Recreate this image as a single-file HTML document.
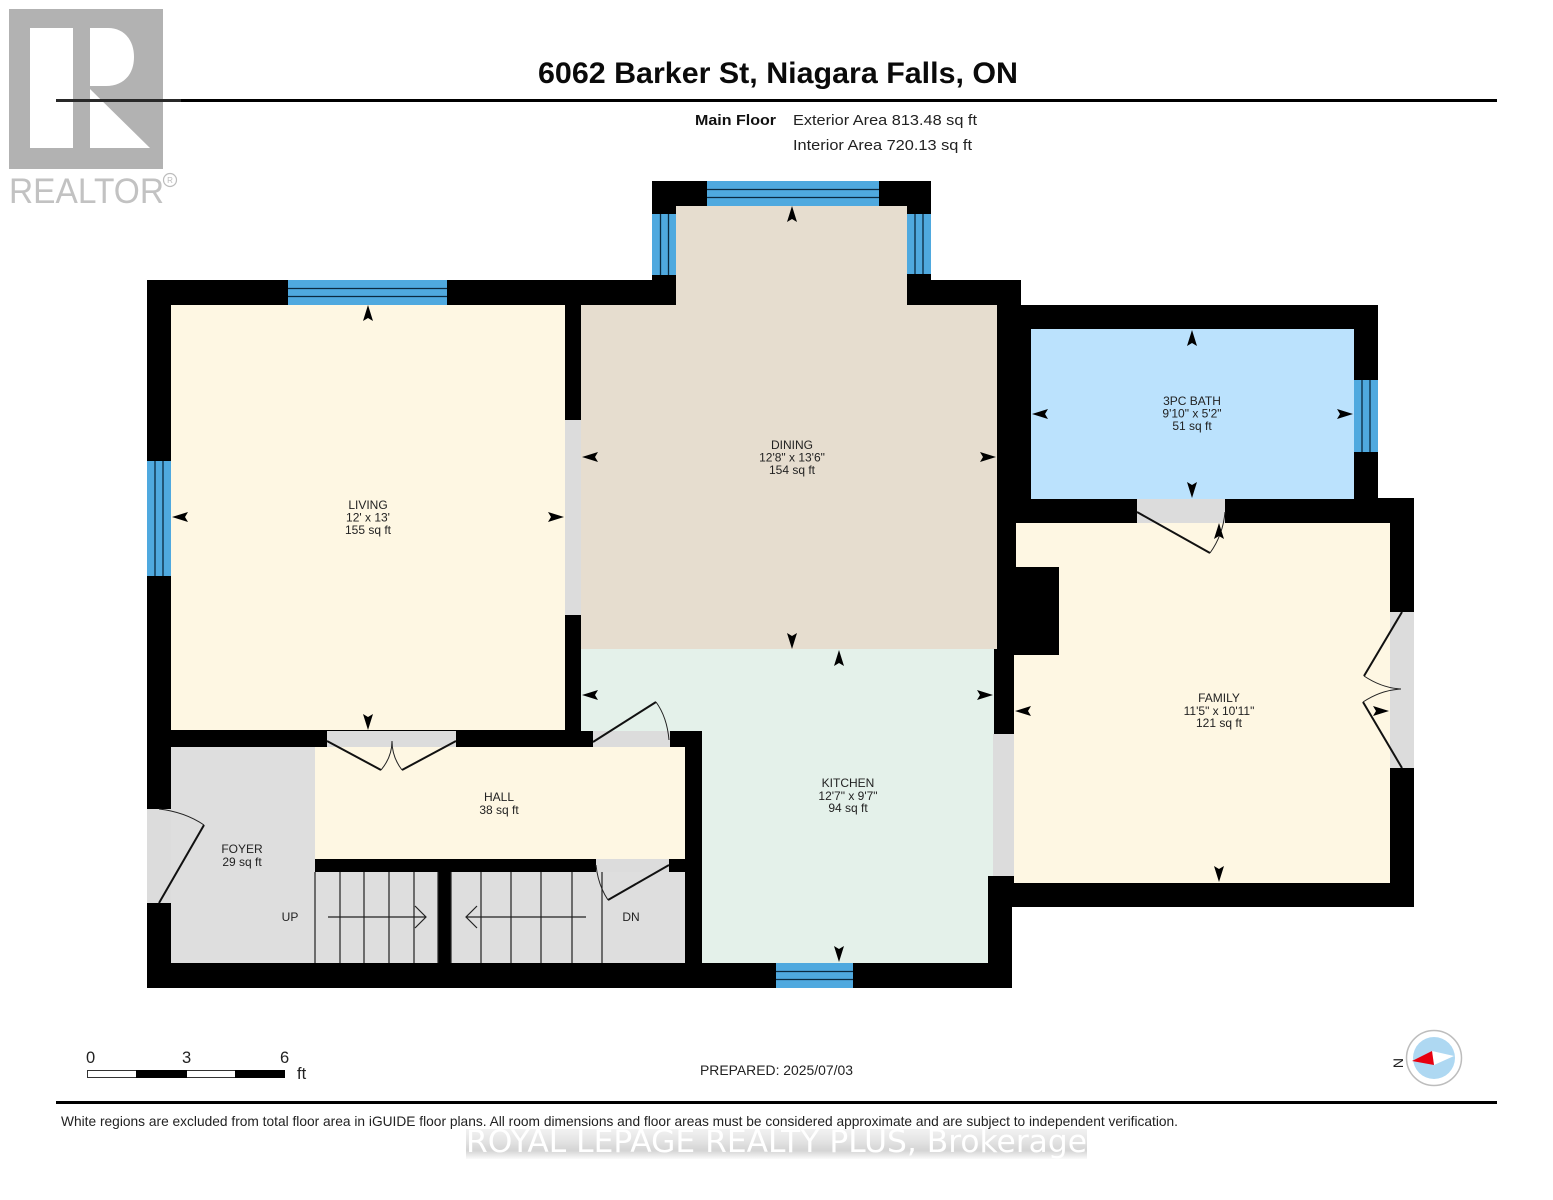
<!DOCTYPE html>
<html lang="en"><head><meta charset="utf-8"><title>6062 Barker St floor plan</title>
<style>html,body{margin:0;padding:0;background:#fff}svg{display:block}text{font-family:"Liberation Sans",sans-serif}</style></head>
<body>
<svg xmlns="http://www.w3.org/2000/svg" xmlns:xlink="http://www.w3.org/1999/xlink" width="1553" height="1200" viewBox="0 0 1553 1200">
<defs>
<path id="a" d="M0 0L5 16L0 13L-5 16Z" fill="#000"/>
<linearGradient id="wm" x1="0" y1="0" x2="0" y2="1"><stop offset="0" stop-color="#f2f2f2"/><stop offset=".35" stop-color="#e6e6e6"/><stop offset=".72" stop-color="#d4d4d4"/><stop offset="1" stop-color="#fafafa"/></linearGradient>
</defs>
<rect width="1553" height="1200" fill="#fff"/>

<!-- logo -->
<rect x="9" y="9" width="154" height="160" fill="#b2b2b2"/>
<rect x="30" y="28" width="43" height="120" fill="#fff"/>
<path d="M90 28H108C124 28 134 40 134 57C134 75 123 86 106 86H90Z" fill="#fff"/>
<path d="M90 89L150 148H90Z" fill="#fff"/>
<text x="9" y="203" font-size="35" fill="#c2c2c2" textLength="155" lengthAdjust="spacingAndGlyphs">REALTOR</text>
<circle cx="170" cy="180" r="6.5" fill="none" stroke="#bcbcbc" stroke-width="1.2"/>
<text x="170" y="183" font-size="8" fill="#bcbcbc" text-anchor="middle">R</text>

<!-- header -->
<rect x="56" y="99" width="1441" height="3" fill="#000"/>
<rect x="56" y="99" width="125" height="3" fill="#333" opacity=".8"/>
<text x="538" y="83" font-size="29.5" font-weight="700" fill="#0a0a0a" textLength="480" lengthAdjust="spacingAndGlyphs">6062 Barker St, Niagara Falls, ON</text>
<text x="695" y="125" font-size="15" font-weight="700" fill="#111" textLength="81" lengthAdjust="spacingAndGlyphs">Main Floor</text>
<text x="793" y="125" font-size="15" fill="#222" textLength="184" lengthAdjust="spacingAndGlyphs">Exterior Area 813.48 sq ft</text>
<text x="793" y="150" font-size="15" fill="#222" textLength="179" lengthAdjust="spacingAndGlyphs">Interior Area 720.13 sq ft</text>

<!-- walls -->
<path d="M147 280H652V181H931V280H1021V305H1378V498H1414V907H1012V988H147Z" fill="#000"/>

<!-- rooms -->
<rect x="171" y="305" width="394" height="425" fill="#fef7e3"/>
<path d="M676 206H907V305H997V649H581V305H676Z" fill="#e6ddcf"/>
<path d="M581 649H994V876H988V963H702V731H581Z" fill="#e4f1ea"/>
<rect x="565" y="731" width="28" height="16" fill="#000"/>
<rect x="670" y="731" width="32" height="232" fill="#000"/>
<rect x="1031" y="329" width="323" height="170" fill="#bbe2fd"/>
<path d="M1016 523H1390V883H1014V655H1059V567H1016Z" fill="#fef7e3"/>
<rect x="171" y="747" width="144" height="216" fill="#dedede"/>
<rect x="315" y="747" width="370" height="112" fill="#fef7e3"/>
<rect x="315" y="872" width="123" height="91" fill="#dedede"/>
<rect x="451" y="872" width="234" height="91" fill="#dedede"/>

<!-- door openings -->
<g fill="#dcdcdc">
<rect x="565" y="420" width="16" height="195"/>
<rect x="593" y="731" width="77" height="16"/>
<rect x="327" y="731" width="129" height="16"/>
<rect x="147" y="809" width="24" height="94"/>
<rect x="596" y="859" width="73" height="13"/>
<rect x="993" y="734" width="21" height="142"/>
<rect x="1137" y="499" width="88" height="24"/>
<rect x="1390" y="612" width="24" height="156"/>
</g>

<!-- windows -->
<g fill="#4fa9df" stroke="none">
<rect x="288" y="280" width="159" height="25"/>
<rect x="147" y="461" width="24" height="115"/>
<rect x="707" y="181" width="172" height="25"/>
<rect x="652" y="214" width="24" height="61"/>
<rect x="907" y="214" width="24" height="60"/>
<rect x="776" y="963" width="77" height="25"/>
<rect x="1354" y="380" width="24" height="72"/>
</g>
<g stroke="#0b2a40" stroke-width="1.3" fill="none">
<path d="M288 288.500H447M288 296.500H447"/>
<path d="M155 461V576M163 461V576"/>
<path d="M707 189.500H879M707 197.500H879"/>
<path d="M660.500 214V275M668.500 214V275"/>
<path d="M915 214V274M923 214V274"/>
<path d="M776 971.500H853M776 979.500H853"/>
<path d="M1362 380V452M1370 380V452"/>
</g>

<!-- door leaves -->
<g fill="none" stroke="#111" stroke-width="2">
<path d="M159 903L204 825"/>
<path d="M327 741L381 770"/>
<path d="M456 741L402 770"/>
<path d="M593 742L656 702"/>
<path d="M669 865L608 900"/>
<path d="M1137 512L1210 553"/>
<path d="M1402 612L1364 676"/>
<path d="M1402 768L1363 702"/>
</g>
<g fill="none" stroke="#222" stroke-width="1">
<path d="M159 809Q185 812 204 825"/>
<path d="M381 770Q392 757 392 741"/>
<path d="M402 770Q392 757 392 741"/>
<path d="M656 702Q667 717 669 740"/>
<path d="M608 900Q598 885 596 865"/>
<path d="M1210 553Q1223 535 1225 512"/>
<path d="M1364 676Q1382 688 1401 689"/>
<path d="M1363 702Q1381 690 1401 689"/>
</g>

<!-- stairs -->
<g fill="none" stroke="#222" stroke-width="1.2">
<path d="M315 872V963M340 872V963M364 872V963M389 872V963M414 872V963M438 872V963"/>
<path d="M451 872V963M481 872V963M511 872V963M541 872V963M572 872V963M602 872V963"/>
<path d="M328 917H426M415 906L426 917L415 928"/>
<path d="M586 917H466M477 906L466 917L477 928"/>
</g>

<!-- dimension arrows -->
<use xlink:href="#a" href="#a" transform="translate(368 305)"/>
<use xlink:href="#a" href="#a" transform="translate(172 517) rotate(-90)"/>
<use xlink:href="#a" href="#a" transform="translate(564 517) rotate(90)"/>
<use xlink:href="#a" href="#a" transform="translate(368 730) rotate(180)"/>
<use xlink:href="#a" href="#a" transform="translate(792 206)"/>
<use xlink:href="#a" href="#a" transform="translate(582 457) rotate(-90)"/>
<use xlink:href="#a" href="#a" transform="translate(996 457) rotate(90)"/>
<use xlink:href="#a" href="#a" transform="translate(792 649) rotate(180)"/>
<use xlink:href="#a" href="#a" transform="translate(1192 330)"/>
<use xlink:href="#a" href="#a" transform="translate(1032 414) rotate(-90)"/>
<use xlink:href="#a" href="#a" transform="translate(1353 414) rotate(90)"/>
<use xlink:href="#a" href="#a" transform="translate(1192 498) rotate(180)"/>
<use xlink:href="#a" href="#a" transform="translate(1219 523)"/>
<use xlink:href="#a" href="#a" transform="translate(1015 711) rotate(-90)"/>
<use xlink:href="#a" href="#a" transform="translate(1389 711) rotate(90)"/>
<use xlink:href="#a" href="#a" transform="translate(1219 882) rotate(180)"/>
<use xlink:href="#a" href="#a" transform="translate(839 650)"/>
<use xlink:href="#a" href="#a" transform="translate(582 695) rotate(-90)"/>
<use xlink:href="#a" href="#a" transform="translate(993 695) rotate(90)"/>
<use xlink:href="#a" href="#a" transform="translate(839 962) rotate(180)"/>

<!-- room labels -->
<g font-size="12" fill="#222" text-anchor="middle">
<text x="368" y="509">LIVING</text><text x="368" y="521.500">12' x 13'</text><text x="368" y="534">155 sq ft</text>
<text x="792" y="449">DINING</text><text x="792" y="461.500">12'8" x 13'6"</text><text x="792" y="474">154 sq ft</text>
<text x="1192" y="405">3PC BATH</text><text x="1192" y="417.500">9'10" x 5'2"</text><text x="1192" y="430">51 sq ft</text>
<text x="1219" y="702">FAMILY</text><text x="1219" y="715">11'5" x 10'11"</text><text x="1219" y="727">121 sq ft</text>
<text x="848" y="787">KITCHEN</text><text x="848" y="800">12'7" x 9'7"</text><text x="848" y="812">94 sq ft</text>
<text x="499" y="801">HALL</text><text x="499" y="814">38 sq ft</text>
<text x="242" y="853">FOYER</text><text x="242" y="866">29 sq ft</text>
<text x="290" y="921">UP</text>
<text x="631" y="921">DN</text>
</g>

<!-- scale bar -->
<g font-size="16.500" fill="#222">
<text x="86" y="1063">0</text><text x="182" y="1063">3</text><text x="280" y="1063">6</text>
<text x="297" y="1079">ft</text>
</g>
<rect x="87.500" y="1070.500" width="197" height="7" fill="#fff" stroke="#333"/>
<rect x="136" y="1070" width="51" height="8" fill="#000"/>
<rect x="235" y="1070" width="50" height="8" fill="#000"/>

<text x="700" y="1075" font-size="14" fill="#222" textLength="153" lengthAdjust="spacingAndGlyphs">PREPARED: 2025/07/03</text>

<!-- compass -->
<circle cx="1434" cy="1058" r="27.500" fill="#fff" stroke="#bdbdbd" stroke-width="1.500"/>
<circle cx="1434" cy="1058" r="21" fill="#aed8f2"/>
<path d="M1432 1051L1454 1056L1434 1065Z" fill="#fff"/>
<path d="M1412 1061L1432 1051L1434 1065Z" fill="#e8000f"/>
<text x="0" y="0" font-size="14" fill="#222" text-anchor="middle" transform="translate(1403 1063) rotate(-90)">N</text>

<!-- footer -->
<rect x="56" y="1101" width="1441" height="3" fill="#000"/>
<text x="61" y="1126" font-size="14" fill="#222" textLength="1117" lengthAdjust="spacingAndGlyphs">White regions are excluded from total floor area in iGUIDE floor plans. All room dimensions and floor areas must be considered approximate and are subject to independent verification.</text>

<!-- watermark -->
<rect x="466" y="1129" width="621" height="30" fill="url(#wm)"/>
<text x="466" y="1152" font-size="31" fill="#fff" textLength="621" lengthAdjust="spacingAndGlyphs" style="font-family:'DejaVu Sans',sans-serif">ROYAL LEPAGE REALTY PLUS, Brokerage</text>
</svg>
</body></html>
